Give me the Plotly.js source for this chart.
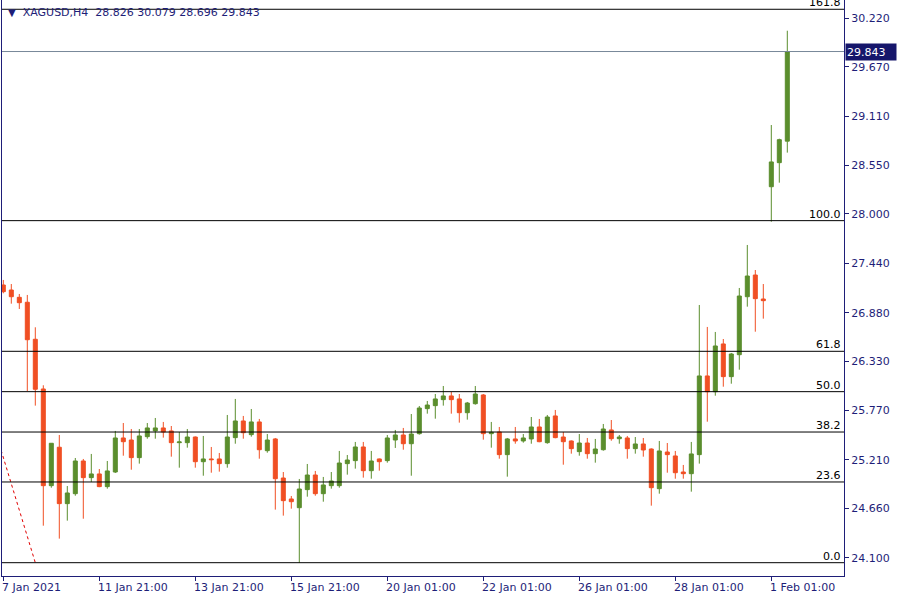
<!DOCTYPE html>
<html><head><meta charset="utf-8">
<script src="https://cdn.plot.ly/plotly-3.0.1.min.js"></script>
<style>html,body{margin:0;padding:0;background:#fff}#chart{width:900px;height:600px}</style>
</head><body><div id="chart"></div>
<script>
const symbolName = 'XAGUSD,H4';

const openP = [27.194,27.137,27.054,26.998,26.578,26.014,24.917,25.353,24.713,24.826,
25.197,25.008,25.050,24.906,25.072,25.458,25.435,25.235,25.473,25.538,
25.572,25.538,25.405,25.405,25.469,25.189,25.220,25.220,25.167,25.462,
25.651,25.496,25.640,25.314,25.447,25.004,24.766,24.667,24.872,25.038,
24.826,24.917,24.917,25.167,25.201,25.356,25.087,25.220,25.201,25.435,
25.492,25.393,25.507,25.791,25.825,25.893,25.935,25.901,25.745,25.847,
25.946,25.507,25.526,25.269,25.447,25.424,25.447,25.583,25.405,25.708,
25.469,25.424,25.303,25.401,25.280,25.325,25.549,25.450,25.458,25.337,
25.390,25.333,24.883,25.299,25.254,25.072,25.053,25.269,26.162,25.983,
26.525,26.154,26.403,27.061,27.307,27.035,28.309,28.582,28.826];

const highP = [27.251,27.205,27.092,27.081,26.714,26.056,25.398,25.492,24.913,25.231,
25.220,25.277,25.106,25.197,25.538,25.628,25.560,25.560,25.628,25.685,
25.640,25.594,25.526,25.560,25.475,25.481,25.356,25.288,25.719,25.901,
25.708,25.787,25.674,25.503,25.458,25.072,24.800,24.993,25.163,25.084,
25.016,25.072,25.311,25.265,25.413,25.413,25.311,25.225,25.492,25.549,
25.572,25.730,25.821,25.878,25.957,26.048,25.980,25.957,25.867,26.048,
25.957,25.640,25.583,25.458,25.583,25.503,25.696,25.674,25.719,25.776,
25.526,25.430,25.503,25.458,25.447,25.617,25.662,25.492,25.481,25.469,
25.458,25.340,25.424,25.401,25.311,25.152,25.413,26.967,26.718,26.661,
26.581,26.423,27.160,27.648,27.364,27.205,29.009,28.854,30.079];

const lowP = [27.100,26.982,26.922,25.991,25.825,24.463,24.894,24.316,24.520,24.803,
24.542,24.959,24.900,24.883,25.061,25.257,25.098,25.167,25.450,25.450,
25.462,25.246,25.121,25.348,25.121,25.030,25.064,25.076,25.121,25.393,
25.450,25.473,25.223,25.291,24.645,24.577,24.656,24.043,24.792,24.803,
24.735,24.883,24.894,25.042,25.110,25.008,24.996,25.087,25.178,25.345,
25.325,25.030,25.496,25.734,25.677,25.825,25.734,25.632,25.666,25.836,
25.439,25.348,25.223,25.019,25.393,25.405,25.393,25.410,25.393,25.455,
25.155,25.280,25.257,25.223,25.178,25.314,25.427,25.393,25.223,25.280,
25.246,24.690,24.826,25.064,24.996,24.996,24.849,25.167,25.643,25.938,
26.040,26.074,26.233,26.948,26.664,26.812,27.912,28.355,28.696];

const closeP = [27.118,27.061,26.993,26.573,26.011,24.917,25.398,24.713,24.834,25.197,
25.008,25.050,24.906,25.084,25.458,25.416,25.235,25.481,25.572,25.572,
25.526,25.405,25.413,25.469,25.189,25.220,25.212,25.167,25.469,25.651,
25.518,25.640,25.325,25.435,24.996,24.747,24.735,24.879,25.038,24.826,
24.925,24.970,25.174,25.208,25.356,25.087,25.197,25.189,25.458,25.492,
25.393,25.503,25.798,25.832,25.901,25.935,25.893,25.745,25.855,25.957,
25.507,25.523,25.269,25.447,25.424,25.458,25.583,25.416,25.696,25.462,
25.416,25.337,25.401,25.280,25.333,25.560,25.450,25.469,25.337,25.390,
25.322,24.894,25.311,25.269,25.064,25.053,25.277,26.162,25.983,26.502,
26.154,26.411,27.069,27.296,27.039,27.016,28.590,28.843,29.843];

const xTickBars = [0, 12, 24, 36, 48, 60, 72, 84, 96];
const xTickLabels = ['7 Jan 2021','11 Jan 21:00','13 Jan 21:00','15 Jan 21:00','20 Jan 01:00','22 Jan 01:00','26 Jan 01:00','28 Jan 01:00','1 Feb 01:00'];
const yTickVals = [24.100, 24.660, 25.210, 25.770, 26.330, 26.880, 27.440, 28.000, 28.550, 29.110, 29.670, 30.220];

const fibAnchorBar = [-9, 4];
const fibAnchorPrice = [27.924, 24.043];
const fibLevels = [0, 23.6, 38.2, 50, 61.8, 100, 161.8];

const GREEN = '#5b8e2d', RED = '#f04f24', NAVY = '#1e1e78', FONT = 'DejaVu Sans';
const bars = openP.map((_, i) => i);

const fibPrice = fibLevels.map(l => fibAnchorPrice[1] + l / 100 * (fibAnchorPrice[0] - fibAnchorPrice[1]));
const last = openP.length - 1;

const traces = [
  {type: 'candlestick', x: bars, open: openP, high: highP, low: lowP, close: closeP,
   increasing: {line: {color: GREEN, width: 1}, fillcolor: GREEN},
   decreasing: {line: {color: RED, width: 1}, fillcolor: RED},
   whiskerwidth: 0, hoverinfo: 'skip', showlegend: false},
  {type: 'scatter', mode: 'lines', x: fibAnchorBar, y: fibAnchorPrice,
   line: {color: '#e00000', width: 1, dash: 'dot'}, hoverinfo: 'skip', showlegend: false}
];

const shapes = fibPrice.map(p => ({type: 'line', xref: 'paper', x0: 0, x1: 1, yref: 'y', y0: p, y1: p,
  line: {color: '#000', width: 1}}));
shapes.push({type: 'line', xref: 'paper', x0: 0, x1: 1, yref: 'y', y0: closeP[last], y1: closeP[last],
  line: {color: '#778899', width: 1}});

const annotations = [];
fibLevels.forEach((l, i) => annotations.push({xref: 'paper', x: 1, xanchor: 'right', xshift: -1,
  yref: 'y', y: fibPrice[i], yanchor: 'bottom', yshift: -2, text: l.toFixed(1), showarrow: false,
  font: {family: FONT, size: 11, color: '#000'}}));
xTickBars.forEach((b, i) => annotations.push({xref: 'x', x: b, xanchor: 'left', xshift: -3,
  yref: 'paper', y: 0, yanchor: 'top', yshift: -3, text: xTickLabels[i], showarrow: false,
  font: {family: FONT, size: 11, color: NAVY}}));
annotations.push({xref: 'paper', x: 1, xanchor: 'left', xshift: 1, yref: 'y', y: closeP[last], yanchor: 'middle',
  text: closeP[last].toFixed(3), showarrow: false, bgcolor: '#16166b', borderpad: 1,
  width: 48, height: 14, align: 'left',
  font: {family: FONT, size: 11, color: '#fff'}});
annotations.push({xref: 'paper', x: 0, xanchor: 'left', xshift: 4, yref: 'paper', y: 1, yanchor: 'top', yshift: -4,
  text: '<span style="font-size:10px">▼</span>\u00A0\u00A0' + symbolName + '\u00A0\u00A0' +
    [openP[last], highP[last], lowP[last], closeP[last]].map(v => v.toFixed(3)).join('\u00A0'),
  showarrow: false, font: {family: FONT, size: 11, color: NAVY}});

const layout = {
  width: 900, height: 600,
  margin: {l: 2, r: 56, t: 0, b: 24, pad: 0},
  paper_bgcolor: '#fff', plot_bgcolor: '#fff',
  showlegend: false, hovermode: false,
  boxgap: 0.5, boxgroupgap: 0,
  xaxis: {range: [-0.1625, 105.0875], showgrid: false, zeroline: false,
    showline: true, mirror: true, linecolor: NAVY, linewidth: 1,
    tickmode: 'array', tickvals: xTickBars, ticktext: xTickBars.map(() => ''),
    ticks: 'outside', ticklen: 4, tickcolor: NAVY, showticklabels: false,
    rangeslider: {visible: false}, fixedrange: true},
  yaxis: {range: [23.892, 30.4276], side: 'right', showgrid: false, zeroline: false,
    showline: true, mirror: true, linecolor: NAVY, linewidth: 1,
    tickmode: 'array', tickvals: yTickVals, ticktext: yTickVals.map(v => v.toFixed(3)),
    ticks: 'outside', ticklen: 4, tickcolor: NAVY,
    tickfont: {family: FONT, size: 11, color: NAVY}, fixedrange: true},
  shapes: shapes,
  annotations: annotations
};

Plotly.newPlot('chart', traces, layout, {displayModeBar: false, staticPlot: true});
</script>
</body></html>
